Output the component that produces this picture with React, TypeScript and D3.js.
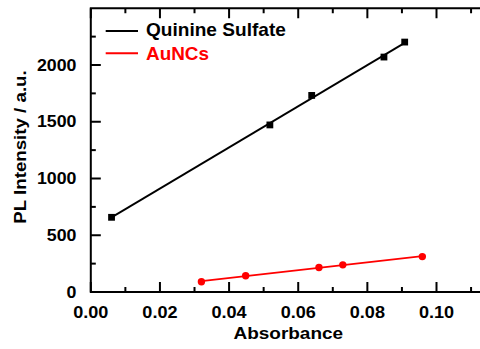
import React from "react";
import * as d3 from "d3";

const quinineX = [0.006, 0.0518, 0.0639, 0.0848, 0.0908];
const quinineY = [658, 1472, 1732, 2070, 2202];
const aunX = [0.032, 0.0448, 0.066, 0.0729, 0.0959];
const aunY = [90, 143, 216, 239, 312];
const xMajorTicks = [0, 0.02, 0.04, 0.06, 0.08, 0.1];
const xMinorTicks = [0.01, 0.03, 0.05, 0.07, 0.09, 0.11];
const yMajorTicks = [0, 500, 1000, 1500, 2000];
const yMinorTicks = [250, 750, 1250, 1750, 2250];
const seriesNames = ["Quinine Sulfate", "AuNCs"];

const W = 480;
const H = 349;
const FONT = "'Liberation Sans', Arial, Helvetica, sans-serif";

function fit(xs: number[], ys: number[]) {
  const mx = d3.mean(xs)!;
  const my = d3.mean(ys)!;
  const sxy = d3.sum(xs.map((x, i) => (x - mx) * (ys[i] - my)));
  const sxx = d3.sum(xs.map((x) => (x - mx) * (x - mx)));
  const b = sxy / sxx;
  const a = my - b * mx;
  const [x0, x1] = d3.extent(xs) as [number, number];
  return [
    [x0, a + b * x0],
    [x1, a + b * x1],
  ] as [number, number][];
}

export default function App() {
  const x = d3.scaleLinear().domain([0, 0.12]).range([90.8, 90.8 + 0.12 * 3457]);
  const y = d3.scaleLinear().domain([0, 2500]).range([292, 8.25]);
  const left = x(0);
  const right = x(0.12);
  const top = y(2500);
  const bottom = y(0);
  const line = d3
    .line<[number, number]>()
    .x((d) => x(d[0]))
    .y((d) => y(d[1]));

  const qFit = fit(quinineX, quinineY);
  const aFit = fit(aunX, aunY);

  const txt = (
    key: string,
    tx: number,
    ty: number,
    s: string,
    size: number,
    sx: number,
    anchor: string,
    fill = "#000",
    rot = 0
  ) => (
    <text
      key={key}
      transform={`translate(${tx},${ty}) rotate(${rot}) scale(${sx},1)`}
      fontFamily={FONT}
      fontWeight="bold"
      fontSize={size}
      textAnchor={anchor as any}
      fill={fill}
    >
      {s}
    </text>
  );

  return (
    <svg
      width={W}
      height={H}
      style={{ position: "fixed", left: 0, top: 0, background: "#fff" }}
    >
      <rect x={0} y={0} width={W} height={H} fill="#fff" />
      {/* fit lines */}
      <path d={line(qFit)!} stroke="#000" strokeWidth={1.8} fill="none" />
      <path d={line(aFit)!} stroke="#ff0000" strokeWidth={1.8} fill="none" />
      {/* markers */}
      {quinineX.map((v, i) => (
        <rect
          key={"q" + i}
          x={x(v) - 3.4}
          y={y(quinineY[i]) - 3.4}
          width={6.8}
          height={6.8}
          fill="#000"
        />
      ))}
      {aunX.map((v, i) => (
        <circle key={"a" + i} cx={x(v)} cy={y(aunY[i])} r={3.7} fill="#ff0000" />
      ))}
      {/* ticks */}
      {xMajorTicks.map((t) => (
        <g key={"xM" + t}>
          <line x1={x(t)} x2={x(t)} y1={bottom} y2={bottom - 10} stroke="#000" strokeWidth={2} />
          <line x1={x(t)} x2={x(t)} y1={top} y2={top + 10} stroke="#000" strokeWidth={2} />
        </g>
      ))}
      {xMinorTicks.map((t) => (
        <g key={"xm" + t}>
          <line x1={x(t)} x2={x(t)} y1={bottom} y2={bottom - 5} stroke="#000" strokeWidth={2} />
          <line x1={x(t)} x2={x(t)} y1={top} y2={top + 5} stroke="#000" strokeWidth={2} />
        </g>
      ))}
      {yMajorTicks.map((t) => (
        <line key={"yM" + t} x1={left} x2={left + 10} y1={y(t)} y2={y(t)} stroke="#000" strokeWidth={2} />
      ))}
      {yMinorTicks.map((t) => (
        <line key={"ym" + t} x1={left} x2={left + 5} y1={y(t)} y2={y(t)} stroke="#000" strokeWidth={2} />
      ))}
      {/* frame */}
      <rect
        x={left}
        y={top}
        width={right - left}
        height={bottom - top}
        fill="none"
        stroke="#000"
        strokeWidth={2}
      />
      {/* tick labels */}
      {xMajorTicks.map((t) => txt("xl" + t, x(t), 318.3, d3.format(".2f")(t), 15.6, 1.16, "middle"))}
      {yMajorTicks.map((t) => txt("yl" + t, 76.5, y(t) + 5.6, String(t), 15.6, 1.14, "end"))}
      {/* axis titles */}
      {txt("xt", 288.3, 339, "Absorbance", 16.8, 1.13, "middle")}
      {txt("yt", 25.5, 147, "PL Intensity / a.u.", 17, 1.1, "middle", "#000", -90)}
      {/* legend */}
      <line x1={105.7} x2={138} y1={31} y2={31} stroke="#000" strokeWidth={2} />
      {txt("l1", 146, 35.7, seriesNames[0], 17.5, 1.09, "start")}
      <line x1={105.7} x2={138} y1={53.3} y2={53.3} stroke="#ff0000" strokeWidth={2} />
      {txt("l2", 146, 59.5, seriesNames[1], 17.5, 1.08, "start", "#ff0000")}
    </svg>
  );
}
